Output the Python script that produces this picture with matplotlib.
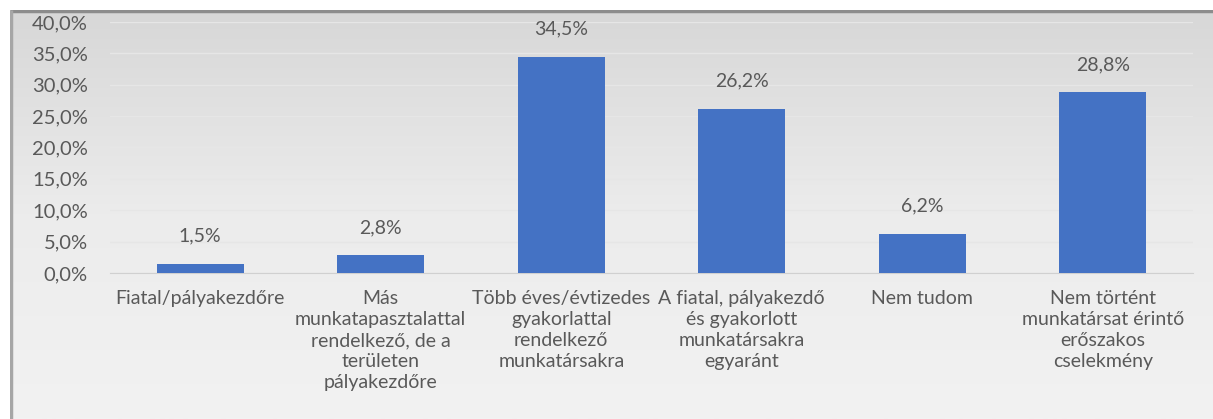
import numpy as np
import matplotlib
matplotlib.use("Agg")
import matplotlib.pyplot as plt
from matplotlib.ticker import FuncFormatter

categories = [
    "Fiatal/pályakezdőre",
    "Más\nmunkatapasztalattal\nrendelkező, de a\nterületen\npályakezdőre",
    "Több éves/évtizedes\ngyakorlattal\nrendelkező\nmunkatársakra",
    "A fiatal, pályakezdő\nés gyakorlott\nmunkatársakra\negyaránt",
    "Nem tudom",
    "Nem történt\nmunkatársat érintő\nerőszakos\ncselekmény",
]
values = [1.5, 2.8, 34.5, 26.2, 6.2, 28.8]
yticks = [0, 5, 10, 15, 20, 25, 30, 35, 40]

TEXT = "#595959"
BAR = "#4472C4"
plt.rcParams["font.family"] = ["Lato", "DejaVu Sans"]

W, H = 1213, 419
fig = plt.figure(figsize=(W / 100, H / 100), dpi=100)
fig.patch.set_facecolor("white")

# gradient chart area background with a grey frame on top and left
bg = fig.add_axes([10 / W, 0, 1 - 10 / W, 1 - 10 / H], zorder=0)
grad = np.linspace(0, 1, 256)[:, None]
bg.imshow(grad, aspect="auto", cmap=matplotlib.colors.LinearSegmentedColormap.from_list(
    "bg", ["#d7d7d7", "#ececec", "#f2f2f2"]), extent=[0, 1, 0, 1], origin="upper")
bg.set_xlim(0, 1)
bg.set_ylim(0, 1)
bg.axis("off")
bg.plot([0, 1], [0.997, 0.997], color="#8c8c8c", lw=2.5, solid_capstyle="butt")
bg.plot([0.001, 0.001], [0, 1], color="#a6a6a6", lw=2.5, solid_capstyle="butt")

ax = fig.add_axes([110 / W, 146 / H, (1193 - 110) / W, (397 - 146) / H], zorder=1)
ax.patch.set_alpha(0)
x = np.arange(len(categories))
bars = ax.bar(x, values, width=0.48, color=BAR, zorder=3)
ax.set_xlim(-0.5, len(categories) - 0.5)
ax.set_ylim(0, 40)
ax.set_yticks(yticks)
ax.yaxis.set_major_formatter(FuncFormatter(lambda v, p: f"{v:.1f}%".replace(".", ",")))
ax.grid(axis="y", color="#e6e6e6", lw=1, zorder=0)
for s in ["top", "right", "left"]:
    ax.spines[s].set_visible(False)
ax.spines["bottom"].set_color("#d0d0d0")
ax.tick_params(axis="both", length=0, colors=TEXT)
ax.tick_params(axis="y", pad=16, labelsize=14.5)
ax.set_xticks(x)
ax.set_xticklabels(categories, fontsize=14, color=TEXT, linespacing=1.3)
ax.tick_params(axis="x", pad=12)

for b, v in zip(bars, values):
    ax.annotate(f"{v:.1f}%".replace(".", ","), (b.get_x() + b.get_width() / 2, v),
                xytext=(0, 20), textcoords="offset points", ha="center", va="center",
                fontsize=14, color=TEXT)

fig.savefig("out.png", dpi=100)
